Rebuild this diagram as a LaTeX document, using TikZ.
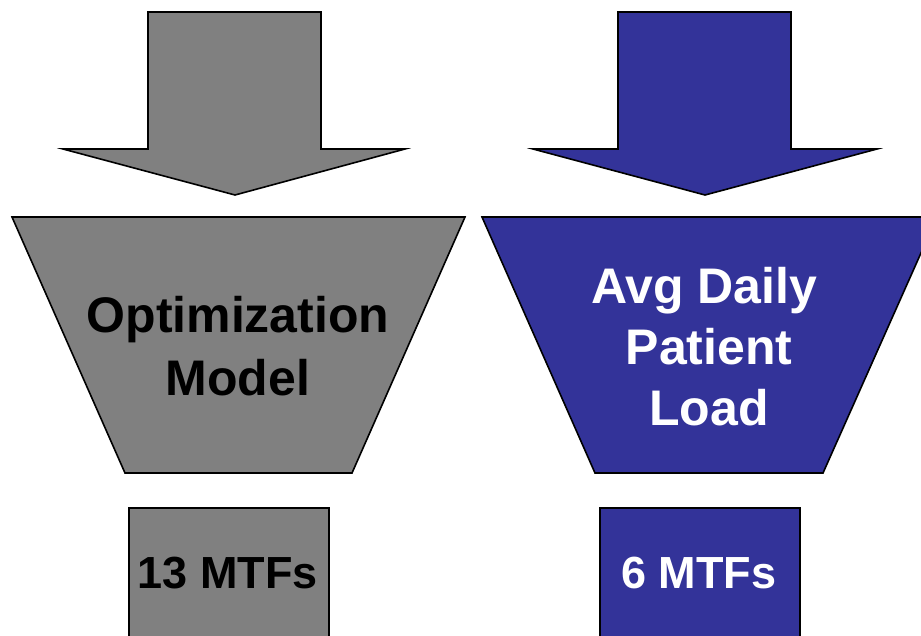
\documentclass[tikz,border=0pt]{standalone}
\usepackage{fontspec}
\setmainfont{Liberation Sans}
\definecolor{shapegray}{RGB}{128,128,128}
\definecolor{shapeblue}{RGB}{51,51,153}
\tikzset{
  blockshape/.style={draw=black, line width=1.6pt, line join=miter},
  bigtext/.style={anchor=base, inner sep=0pt, font=\fontsize{50}{60}\selectfont\bfseries},
  boxtext/.style={anchor=base, inner sep=0pt, font=\fontsize{45}{54}\selectfont\bfseries}
}
\begin{document}
\begin{tikzpicture}[x=1pt,y=-1pt]
\useasboundingbox (0,0) rectangle (921,635);
\clip (0,0) rectangle (921,635);
% left arrow
\draw[blockshape, fill=shapegray] (148,12) -- (321,12) -- (321,149) -- (405,149) -- (235,195) -- (63,149) -- (148,149) -- cycle;
% right arrow
\draw[blockshape, fill=shapeblue] (618,12) -- (791,12) -- (791,149) -- (877,149) -- (705,195) -- (533,149) -- (618,149) -- cycle;
% left trapezoid
\draw[blockshape, fill=shapegray] (12,217) -- (465,217) -- (352,473) -- (125,473) -- cycle;
% right trapezoid
\draw[blockshape, fill=shapeblue] (482,217) -- (937,217) -- (823,473) -- (595,473) -- cycle;
% boxes
\draw[blockshape, fill=shapegray] (129,508) rectangle (329,650);
\draw[blockshape, fill=shapeblue] (600,508) rectangle (800,650);
% texts
\node[bigtext, text=black] (opt1) at (238,332) {Optimization};
\node[bigtext, text=black] (opt2) at (238,395) {Model};
\node[bigtext, text=white] (avg1) at (704,303) {Avg Daily};
\node[bigtext, text=white] (avg2) at (709,364) {Patient};
\node[bigtext, text=white] (avg3) at (709,425) {Load};
\node[boxtext, text=black] (m13) at (228,588) {13 MTFs};
\node[boxtext, text=white] (m6) at (699,588) {6 MTFs};
\end{tikzpicture}
\end{document}
